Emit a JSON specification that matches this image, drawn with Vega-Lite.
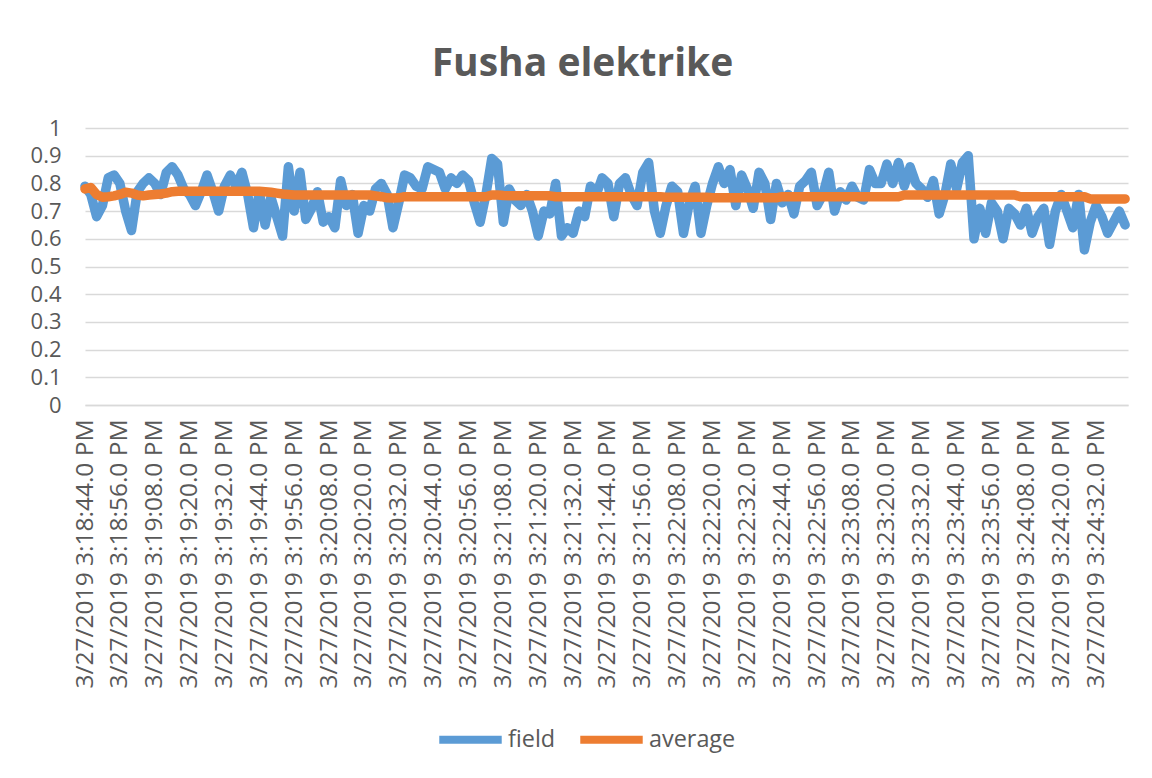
{
  "$schema": "https://vega.github.io/schema/vega-lite/v6.json",
  "width": 1043,
  "height": 277,
  "autosize": {"type": "none"},
  "padding": {"left": 85, "top": 128, "right": 24, "bottom": 373},
  "background": "white",
  "config": {"font": "Open Sans", "view": {"stroke": null}},
  "title": {"text": "Fusha elektrike", "fontSize": 39, "fontWeight": "bold", "color": "#595959", "anchor": "middle", "frame": "group", "dx": -24, "offset": 33},
  "data": {"values": [
    {"time": "2019-03-27T15:18:44", "field": 0.79, "average": 0.78},
    {"time": "2019-03-27T15:18:46", "field": 0.76, "average": 0.785},
    {"time": "2019-03-27T15:18:48", "field": 0.68, "average": 0.76},
    {"time": "2019-03-27T15:18:50", "field": 0.72, "average": 0.75},
    {"time": "2019-03-27T15:18:52", "field": 0.82, "average": 0.752},
    {"time": "2019-03-27T15:18:54", "field": 0.83, "average": 0.755},
    {"time": "2019-03-27T15:18:56", "field": 0.80, "average": 0.76},
    {"time": "2019-03-27T15:18:58", "field": 0.70, "average": 0.768},
    {"time": "2019-03-27T15:19:00", "field": 0.63, "average": 0.765},
    {"time": "2019-03-27T15:19:02", "field": 0.77, "average": 0.758},
    {"time": "2019-03-27T15:19:04", "field": 0.80, "average": 0.755},
    {"time": "2019-03-27T15:19:06", "field": 0.82, "average": 0.758},
    {"time": "2019-03-27T15:19:08", "field": 0.80, "average": 0.76},
    {"time": "2019-03-27T15:19:10", "field": 0.76, "average": 0.762},
    {"time": "2019-03-27T15:19:12", "field": 0.84, "average": 0.765},
    {"time": "2019-03-27T15:19:14", "field": 0.86, "average": 0.77},
    {"time": "2019-03-27T15:19:16", "field": 0.83, "average": 0.772},
    {"time": "2019-03-27T15:19:18", "field": 0.78, "average": 0.772},
    {"time": "2019-03-27T15:19:20", "field": 0.76, "average": 0.772},
    {"time": "2019-03-27T15:19:22", "field": 0.72, "average": 0.772},
    {"time": "2019-03-27T15:19:24", "field": 0.77, "average": 0.772},
    {"time": "2019-03-27T15:19:26", "field": 0.83, "average": 0.772},
    {"time": "2019-03-27T15:19:28", "field": 0.77, "average": 0.772},
    {"time": "2019-03-27T15:19:30", "field": 0.70, "average": 0.772},
    {"time": "2019-03-27T15:19:32", "field": 0.79, "average": 0.772},
    {"time": "2019-03-27T15:19:34", "field": 0.83, "average": 0.772},
    {"time": "2019-03-27T15:19:36", "field": 0.79, "average": 0.772},
    {"time": "2019-03-27T15:19:38", "field": 0.84, "average": 0.772},
    {"time": "2019-03-27T15:19:40", "field": 0.76, "average": 0.772},
    {"time": "2019-03-27T15:19:42", "field": 0.64, "average": 0.772},
    {"time": "2019-03-27T15:19:44", "field": 0.77, "average": 0.772},
    {"time": "2019-03-27T15:19:46", "field": 0.65, "average": 0.77},
    {"time": "2019-03-27T15:19:48", "field": 0.75, "average": 0.768},
    {"time": "2019-03-27T15:19:50", "field": 0.68, "average": 0.765},
    {"time": "2019-03-27T15:19:52", "field": 0.61, "average": 0.762},
    {"time": "2019-03-27T15:19:54", "field": 0.86, "average": 0.76},
    {"time": "2019-03-27T15:19:56", "field": 0.70, "average": 0.758},
    {"time": "2019-03-27T15:19:58", "field": 0.84, "average": 0.758},
    {"time": "2019-03-27T15:20:00", "field": 0.67, "average": 0.758},
    {"time": "2019-03-27T15:20:02", "field": 0.71, "average": 0.758},
    {"time": "2019-03-27T15:20:04", "field": 0.77, "average": 0.758},
    {"time": "2019-03-27T15:20:06", "field": 0.66, "average": 0.758},
    {"time": "2019-03-27T15:20:08", "field": 0.68, "average": 0.758},
    {"time": "2019-03-27T15:20:10", "field": 0.64, "average": 0.758},
    {"time": "2019-03-27T15:20:12", "field": 0.81, "average": 0.758},
    {"time": "2019-03-27T15:20:14", "field": 0.72, "average": 0.758},
    {"time": "2019-03-27T15:20:16", "field": 0.76, "average": 0.758},
    {"time": "2019-03-27T15:20:18", "field": 0.62, "average": 0.758},
    {"time": "2019-03-27T15:20:20", "field": 0.72, "average": 0.758},
    {"time": "2019-03-27T15:20:22", "field": 0.70, "average": 0.758},
    {"time": "2019-03-27T15:20:24", "field": 0.78, "average": 0.755},
    {"time": "2019-03-27T15:20:26", "field": 0.80, "average": 0.752},
    {"time": "2019-03-27T15:20:28", "field": 0.76, "average": 0.748},
    {"time": "2019-03-27T15:20:30", "field": 0.64, "average": 0.747},
    {"time": "2019-03-27T15:20:32", "field": 0.73, "average": 0.748},
    {"time": "2019-03-27T15:20:34", "field": 0.83, "average": 0.752},
    {"time": "2019-03-27T15:20:36", "field": 0.82, "average": 0.752},
    {"time": "2019-03-27T15:20:38", "field": 0.79, "average": 0.752},
    {"time": "2019-03-27T15:20:40", "field": 0.78, "average": 0.752},
    {"time": "2019-03-27T15:20:42", "field": 0.86, "average": 0.752},
    {"time": "2019-03-27T15:20:44", "field": 0.85, "average": 0.752},
    {"time": "2019-03-27T15:20:46", "field": 0.84, "average": 0.752},
    {"time": "2019-03-27T15:20:48", "field": 0.78, "average": 0.752},
    {"time": "2019-03-27T15:20:50", "field": 0.82, "average": 0.752},
    {"time": "2019-03-27T15:20:52", "field": 0.80, "average": 0.752},
    {"time": "2019-03-27T15:20:54", "field": 0.83, "average": 0.752},
    {"time": "2019-03-27T15:20:56", "field": 0.81, "average": 0.752},
    {"time": "2019-03-27T15:20:58", "field": 0.73, "average": 0.752},
    {"time": "2019-03-27T15:21:00", "field": 0.66, "average": 0.752},
    {"time": "2019-03-27T15:21:02", "field": 0.76, "average": 0.752},
    {"time": "2019-03-27T15:21:04", "field": 0.89, "average": 0.758},
    {"time": "2019-03-27T15:21:06", "field": 0.87, "average": 0.758},
    {"time": "2019-03-27T15:21:08", "field": 0.66, "average": 0.756},
    {"time": "2019-03-27T15:21:10", "field": 0.78, "average": 0.755},
    {"time": "2019-03-27T15:21:12", "field": 0.74, "average": 0.755},
    {"time": "2019-03-27T15:21:14", "field": 0.72, "average": 0.755},
    {"time": "2019-03-27T15:21:16", "field": 0.76, "average": 0.755},
    {"time": "2019-03-27T15:21:18", "field": 0.70, "average": 0.755},
    {"time": "2019-03-27T15:21:20", "field": 0.61, "average": 0.755},
    {"time": "2019-03-27T15:21:22", "field": 0.70, "average": 0.755},
    {"time": "2019-03-27T15:21:24", "field": 0.69, "average": 0.755},
    {"time": "2019-03-27T15:21:26", "field": 0.80, "average": 0.752},
    {"time": "2019-03-27T15:21:28", "field": 0.61, "average": 0.752},
    {"time": "2019-03-27T15:21:30", "field": 0.64, "average": 0.752},
    {"time": "2019-03-27T15:21:32", "field": 0.62, "average": 0.752},
    {"time": "2019-03-27T15:21:34", "field": 0.70, "average": 0.752},
    {"time": "2019-03-27T15:21:36", "field": 0.68, "average": 0.752},
    {"time": "2019-03-27T15:21:38", "field": 0.79, "average": 0.752},
    {"time": "2019-03-27T15:21:40", "field": 0.76, "average": 0.752},
    {"time": "2019-03-27T15:21:42", "field": 0.82, "average": 0.752},
    {"time": "2019-03-27T15:21:44", "field": 0.80, "average": 0.752},
    {"time": "2019-03-27T15:21:46", "field": 0.68, "average": 0.752},
    {"time": "2019-03-27T15:21:48", "field": 0.80, "average": 0.752},
    {"time": "2019-03-27T15:21:50", "field": 0.82, "average": 0.752},
    {"time": "2019-03-27T15:21:52", "field": 0.76, "average": 0.752},
    {"time": "2019-03-27T15:21:54", "field": 0.72, "average": 0.752},
    {"time": "2019-03-27T15:21:56", "field": 0.84, "average": 0.752},
    {"time": "2019-03-27T15:21:58", "field": 0.875, "average": 0.752},
    {"time": "2019-03-27T15:22:00", "field": 0.70, "average": 0.752},
    {"time": "2019-03-27T15:22:02", "field": 0.62, "average": 0.752},
    {"time": "2019-03-27T15:22:04", "field": 0.72, "average": 0.75},
    {"time": "2019-03-27T15:22:06", "field": 0.79, "average": 0.75},
    {"time": "2019-03-27T15:22:08", "field": 0.77, "average": 0.75},
    {"time": "2019-03-27T15:22:10", "field": 0.62, "average": 0.75},
    {"time": "2019-03-27T15:22:12", "field": 0.73, "average": 0.75},
    {"time": "2019-03-27T15:22:14", "field": 0.79, "average": 0.75},
    {"time": "2019-03-27T15:22:16", "field": 0.62, "average": 0.75},
    {"time": "2019-03-27T15:22:18", "field": 0.72, "average": 0.75},
    {"time": "2019-03-27T15:22:20", "field": 0.80, "average": 0.748},
    {"time": "2019-03-27T15:22:22", "field": 0.86, "average": 0.748},
    {"time": "2019-03-27T15:22:24", "field": 0.80, "average": 0.748},
    {"time": "2019-03-27T15:22:26", "field": 0.85, "average": 0.748},
    {"time": "2019-03-27T15:22:28", "field": 0.72, "average": 0.748},
    {"time": "2019-03-27T15:22:30", "field": 0.83, "average": 0.748},
    {"time": "2019-03-27T15:22:32", "field": 0.78, "average": 0.748},
    {"time": "2019-03-27T15:22:34", "field": 0.71, "average": 0.748},
    {"time": "2019-03-27T15:22:36", "field": 0.84, "average": 0.748},
    {"time": "2019-03-27T15:22:38", "field": 0.80, "average": 0.748},
    {"time": "2019-03-27T15:22:40", "field": 0.67, "average": 0.748},
    {"time": "2019-03-27T15:22:42", "field": 0.80, "average": 0.748},
    {"time": "2019-03-27T15:22:44", "field": 0.73, "average": 0.752},
    {"time": "2019-03-27T15:22:46", "field": 0.76, "average": 0.752},
    {"time": "2019-03-27T15:22:48", "field": 0.69, "average": 0.752},
    {"time": "2019-03-27T15:22:50", "field": 0.79, "average": 0.752},
    {"time": "2019-03-27T15:22:52", "field": 0.81, "average": 0.752},
    {"time": "2019-03-27T15:22:54", "field": 0.84, "average": 0.752},
    {"time": "2019-03-27T15:22:56", "field": 0.72, "average": 0.752},
    {"time": "2019-03-27T15:22:58", "field": 0.76, "average": 0.752},
    {"time": "2019-03-27T15:23:00", "field": 0.84, "average": 0.752},
    {"time": "2019-03-27T15:23:02", "field": 0.70, "average": 0.752},
    {"time": "2019-03-27T15:23:04", "field": 0.77, "average": 0.752},
    {"time": "2019-03-27T15:23:06", "field": 0.74, "average": 0.752},
    {"time": "2019-03-27T15:23:08", "field": 0.79, "average": 0.752},
    {"time": "2019-03-27T15:23:10", "field": 0.75, "average": 0.752},
    {"time": "2019-03-27T15:23:12", "field": 0.74, "average": 0.752},
    {"time": "2019-03-27T15:23:14", "field": 0.85, "average": 0.752},
    {"time": "2019-03-27T15:23:16", "field": 0.80, "average": 0.752},
    {"time": "2019-03-27T15:23:18", "field": 0.80, "average": 0.752},
    {"time": "2019-03-27T15:23:20", "field": 0.87, "average": 0.752},
    {"time": "2019-03-27T15:23:22", "field": 0.80, "average": 0.752},
    {"time": "2019-03-27T15:23:24", "field": 0.875, "average": 0.752},
    {"time": "2019-03-27T15:23:26", "field": 0.79, "average": 0.758},
    {"time": "2019-03-27T15:23:28", "field": 0.86, "average": 0.758},
    {"time": "2019-03-27T15:23:30", "field": 0.80, "average": 0.758},
    {"time": "2019-03-27T15:23:32", "field": 0.78, "average": 0.758},
    {"time": "2019-03-27T15:23:34", "field": 0.75, "average": 0.758},
    {"time": "2019-03-27T15:23:36", "field": 0.81, "average": 0.758},
    {"time": "2019-03-27T15:23:38", "field": 0.69, "average": 0.758},
    {"time": "2019-03-27T15:23:40", "field": 0.76, "average": 0.758},
    {"time": "2019-03-27T15:23:42", "field": 0.87, "average": 0.758},
    {"time": "2019-03-27T15:23:44", "field": 0.78, "average": 0.758},
    {"time": "2019-03-27T15:23:46", "field": 0.875, "average": 0.758},
    {"time": "2019-03-27T15:23:48", "field": 0.90, "average": 0.758},
    {"time": "2019-03-27T15:23:50", "field": 0.60, "average": 0.758},
    {"time": "2019-03-27T15:23:52", "field": 0.71, "average": 0.758},
    {"time": "2019-03-27T15:23:54", "field": 0.62, "average": 0.758},
    {"time": "2019-03-27T15:23:56", "field": 0.73, "average": 0.758},
    {"time": "2019-03-27T15:23:58", "field": 0.70, "average": 0.758},
    {"time": "2019-03-27T15:24:00", "field": 0.60, "average": 0.758},
    {"time": "2019-03-27T15:24:02", "field": 0.71, "average": 0.758},
    {"time": "2019-03-27T15:24:04", "field": 0.69, "average": 0.758},
    {"time": "2019-03-27T15:24:06", "field": 0.65, "average": 0.752},
    {"time": "2019-03-27T15:24:08", "field": 0.71, "average": 0.752},
    {"time": "2019-03-27T15:24:10", "field": 0.62, "average": 0.752},
    {"time": "2019-03-27T15:24:12", "field": 0.68, "average": 0.752},
    {"time": "2019-03-27T15:24:14", "field": 0.71, "average": 0.752},
    {"time": "2019-03-27T15:24:16", "field": 0.58, "average": 0.752},
    {"time": "2019-03-27T15:24:18", "field": 0.70, "average": 0.752},
    {"time": "2019-03-27T15:24:20", "field": 0.76, "average": 0.752},
    {"time": "2019-03-27T15:24:22", "field": 0.70, "average": 0.752},
    {"time": "2019-03-27T15:24:24", "field": 0.64, "average": 0.752},
    {"time": "2019-03-27T15:24:26", "field": 0.76, "average": 0.752},
    {"time": "2019-03-27T15:24:28", "field": 0.56, "average": 0.752},
    {"time": "2019-03-27T15:24:30", "field": 0.66, "average": 0.744},
    {"time": "2019-03-27T15:24:32", "field": 0.72, "average": 0.744},
    {"time": "2019-03-27T15:24:34", "field": 0.68, "average": 0.744},
    {"time": "2019-03-27T15:24:36", "field": 0.62, "average": 0.744},
    {"time": "2019-03-27T15:24:38", "field": 0.66, "average": 0.744},
    {"time": "2019-03-27T15:24:40", "field": 0.70, "average": 0.744},
    {"time": "2019-03-27T15:24:42", "field": 0.65, "average": 0.744}
  ]},
  "transform": [{"fold": ["field", "average"], "as": ["series", "value"]}],
  "mark": {"type": "line", "strokeWidth": 9.5, "strokeCap": "round", "strokeJoin": "round"},
  "encoding": {
    "x": {
      "field": "time",
      "type": "temporal",
      "scale": {"domain": [
        {"year": 2019, "month": 3, "date": 27, "hours": 15, "minutes": 18, "seconds": 44},
        {"year": 2019, "month": 3, "date": 27, "hours": 15, "minutes": 24, "seconds": 43}
      ]},
      "axis": {
        "title": null,
        "values": [
          {"year": 2019, "month": 3, "date": 27, "hours": 15, "minutes": 18, "seconds": 44},
          {"year": 2019, "month": 3, "date": 27, "hours": 15, "minutes": 18, "seconds": 56},
          {"year": 2019, "month": 3, "date": 27, "hours": 15, "minutes": 19, "seconds": 8},
          {"year": 2019, "month": 3, "date": 27, "hours": 15, "minutes": 19, "seconds": 20},
          {"year": 2019, "month": 3, "date": 27, "hours": 15, "minutes": 19, "seconds": 32},
          {"year": 2019, "month": 3, "date": 27, "hours": 15, "minutes": 19, "seconds": 44},
          {"year": 2019, "month": 3, "date": 27, "hours": 15, "minutes": 19, "seconds": 56},
          {"year": 2019, "month": 3, "date": 27, "hours": 15, "minutes": 20, "seconds": 8},
          {"year": 2019, "month": 3, "date": 27, "hours": 15, "minutes": 20, "seconds": 20},
          {"year": 2019, "month": 3, "date": 27, "hours": 15, "minutes": 20, "seconds": 32},
          {"year": 2019, "month": 3, "date": 27, "hours": 15, "minutes": 20, "seconds": 44},
          {"year": 2019, "month": 3, "date": 27, "hours": 15, "minutes": 20, "seconds": 56},
          {"year": 2019, "month": 3, "date": 27, "hours": 15, "minutes": 21, "seconds": 8},
          {"year": 2019, "month": 3, "date": 27, "hours": 15, "minutes": 21, "seconds": 20},
          {"year": 2019, "month": 3, "date": 27, "hours": 15, "minutes": 21, "seconds": 32},
          {"year": 2019, "month": 3, "date": 27, "hours": 15, "minutes": 21, "seconds": 44},
          {"year": 2019, "month": 3, "date": 27, "hours": 15, "minutes": 21, "seconds": 56},
          {"year": 2019, "month": 3, "date": 27, "hours": 15, "minutes": 22, "seconds": 8},
          {"year": 2019, "month": 3, "date": 27, "hours": 15, "minutes": 22, "seconds": 20},
          {"year": 2019, "month": 3, "date": 27, "hours": 15, "minutes": 22, "seconds": 32},
          {"year": 2019, "month": 3, "date": 27, "hours": 15, "minutes": 22, "seconds": 44},
          {"year": 2019, "month": 3, "date": 27, "hours": 15, "minutes": 22, "seconds": 56},
          {"year": 2019, "month": 3, "date": 27, "hours": 15, "minutes": 23, "seconds": 8},
          {"year": 2019, "month": 3, "date": 27, "hours": 15, "minutes": 23, "seconds": 20},
          {"year": 2019, "month": 3, "date": 27, "hours": 15, "minutes": 23, "seconds": 32},
          {"year": 2019, "month": 3, "date": 27, "hours": 15, "minutes": 23, "seconds": 44},
          {"year": 2019, "month": 3, "date": 27, "hours": 15, "minutes": 23, "seconds": 56},
          {"year": 2019, "month": 3, "date": 27, "hours": 15, "minutes": 24, "seconds": 8},
          {"year": 2019, "month": 3, "date": 27, "hours": 15, "minutes": 24, "seconds": 20},
          {"year": 2019, "month": 3, "date": 27, "hours": 15, "minutes": 24, "seconds": 32}
        ],
        "tickCount": 40,
        "format": "%-m/%d/%Y %-I:%M:%S.0 %p",
        "labelAngle": -90,
        "labelAlign": "right",
        "labelBaseline": "middle",
        "labelFontSize": 24.5,
        "labelColor": "#595959",
        "labelPadding": 14,
        "labelLimit": 0,
        "labelOverlap": false,
        "labelFlush": false,
        "labelBound": false,
        "ticks": false,
        "grid": false,
        "domainColor": "#d9d9d9",
        "domainWidth": 1.5
      }
    },
    "y": {
      "field": "value",
      "type": "quantitative",
      "scale": {"domain": [0, 1], "nice": false},
      "axis": {
        "title": null,
        "values": [0, 0.1, 0.2, 0.3, 0.4, 0.5, 0.6, 0.7, 0.8, 0.9, 1],
        "tickCount": 11,
        "format": "~g",
        "labelFontSize": 22,
        "labelColor": "#595959",
        "labelPadding": 24,
        "labelOverlap": false,
        "labelFlush": false,
        "ticks": false,
        "domain": false,
        "grid": true,
        "gridColor": "#d9d9d9",
        "gridWidth": 1.5
      }
    },
    "color": {
      "field": "series",
      "type": "nominal",
      "sort": ["field", "average"],
      "scale": {"domain": ["field", "average"], "range": ["#5B9BD5", "#ED7D31"]},
      "legend": {
        "title": null,
        "orient": "none",
        "direction": "horizontal",
        "legendX": 350,
        "legendY": 576,
        "symbolType": "stroke",
        "symbolSize": 3900,
        "symbolStrokeWidth": 8,
        "labelFontSize": 23.4,
        "labelColor": "#595959",
        "labelOffset": 2,
        "columnPadding": 8
      }
    }
  }
}
